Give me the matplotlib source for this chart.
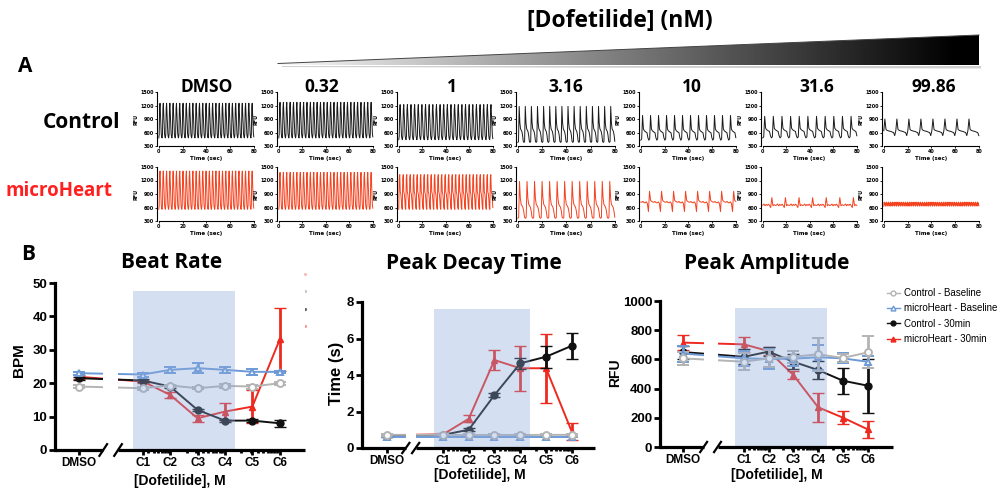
import numpy as np
import matplotlib
matplotlib.use('Agg')
import matplotlib.pyplot as plt
from matplotlib.patches import Polygon
from matplotlib.lines import Line2D

# ---------------- data ----------------
trace_cols = ['DMSO', '0.32', '1', '3.16', '10', '31.6', '99.86']
ctrl_beats = [29, 28, 26, 16, 12, 11, 8]
ctrl_peak = [1250, 1270, 1220, 1180, 980, 960, 900]
ctrl_trough = [480, 480, 440, 380, 430, 480, 480]
ctrl_shape = ['fast', 'fast', 'fast', 'shoulder', 'plateau', 'plateau', 'late']
mh_beats = [29, 28, 27, 13, 8, 7, 45]
mh_peak = [1410, 1380, 1330, 1180, 960, 820, 720]
mh_trough = [560, 560, 560, 360, 510, 560, 630]
mh_shape = ['fast', 'fast', 'notch', 'shoulder', 'irregular', 'noisy', 'flutter']

beat_templates = {
    'fast': [0.0, 0.1, 0.85, 1.0, 0.7, 0.35, 0.12, 0.03],
    'notch': [0.0, 0.9, 1.0, 0.5, 0.45, 0.3, 0.05],
    'shoulder': [0.0, 0.02, 1.0, 0.55, 0.38, 0.34, 0.3, 0.2, 0.03],
    'plateau': [0.0, 0.05, 1.0, 0.45, 0.38, 0.35, 0.32, 0.3, 0.1],
    'late': [0.38, 1.0, 0.45, 0.4, 0.38, 0.36, 0.35, 0.33, 0.3, 0.28, 0.12],
    'irregular': [0.47, 0.46, 0.5, 0.44, 0.43, 0.48, 0.4, 0.0, 1.0, 0.55, 0.5],
    'noisy': [0.35, 0.45, 0.3, 0.42, 0.33, 0.44, 0.32, 0.15, 1.0, 0.3, 0.4, 0.33],
    'flutter': [0.0, 1.0, 0.3, 0.8, 0.1],
}

conc_labels = ['DMSO', 'C1', 'C2', 'C3', 'C4', 'C5', 'C6']
conc_M = [3.2e-10, 1e-9, 3.16e-9, 1e-8, 3.16e-8, 9.986e-8]

series_names = ['Control - Baseline', 'microHeart - Baseline', 'Control - 30min', 'microHeart - 30min']

br_ctrl_base = [19.0, 18.5, 19.3, 18.5, 19.2, 19.0, 20.0]
br_ctrl_base_err = [0.4, 0.4, 0.3, 0.3, 0.7, 0.6, 0.5]
br_mh_base = [23.0, 22.6, 24.0, 24.5, 24.0, 23.4, 23.4]
br_mh_base_err = [0.4, 0.6, 1.0, 1.5, 1.0, 0.8, 0.4]
br_ctrl_30 = [21.5, 20.8, 19.0, 12.0, 8.8, 8.8, 8.0]
br_ctrl_30_err = [0.5, 0.5, 0.4, 0.4, 0.3, 0.4, 1.0]
br_mh_30 = [21.9, 20.5, 16.5, 9.5, 11.5, 13.0, 33.1]
br_mh_30_err = [0.5, 0.5, 1.0, 1.0, 2.5, 5.0, 9.3]

pd_ctrl_base = [0.72, 0.72, 0.71, 0.72, 0.71, 0.72, 0.72]
pd_ctrl_base_err = [0.05, 0.05, 0.05, 0.05, 0.05, 0.05, 0.05]
pd_mh_base = [0.62, 0.62, 0.62, 0.62, 0.62, 0.62, 0.62]
pd_mh_base_err = [0.04, 0.04, 0.04, 0.04, 0.04, 0.04, 0.04]
pd_ctrl_30 = [0.68, 0.72, 1.0, 2.9, 4.64, 5.0, 5.6]
pd_ctrl_30_err = [0.05, 0.05, 0.08, 0.12, 0.3, 0.6, 0.72]
pd_mh_30 = [0.7, 0.75, 1.6, 4.82, 4.37, 4.37, 0.9]
pd_mh_30_err = [0.05, 0.05, 0.2, 0.55, 1.23, 1.9, 0.48]

pa_ctrl_base = [607, 584, 607, 618, 635, 610, 648]
pa_ctrl_base_err = [45, 60, 60, 40, 115, 30, 110]
pa_mh_base = [640, 607, 603, 605, 615, 607, 584]
pa_mh_base_err = [55, 50, 70, 50, 85, 35, 40]
pa_ctrl_30 = [650, 618, 653, 584, 527, 454, 420]
pa_ctrl_30_err = [45, 50, 30, 50, 60, 90, 185]
pa_mh_30 = [715, 703, 657, 493, 272, 201, 121]
pa_mh_30_err = [50, 50, 30, 30, 100, 45, 60]

# ---------------- styling ----------------
W, H = 1000, 504
fig = plt.figure(figsize=(W / 100, H / 100), dpi=100)
TITLE_FONT = ['Open Sans', 'DejaVu Sans']
GP_FONT = ['Liberation Sans', 'DejaVu Sans']
C_GRAY, C_BLUE, C_BLACK, C_RED = '#b4b4b4', '#6d9ad6', '#111111', '#ee2a20'
SHADE = '#8aa8dc'


def fr(x0, y0, x1, y1):
    return [x0 / W, 1 - y1 / H, (x1 - x0) / W, (y1 - y0) / H]


ov = fig.add_axes([0, 0, 1, 1], zorder=-1)
ov.axis('off')

# gradient wedge
grad = np.linspace(0, 1, 512)[None, :]
im = ov.imshow(grad, cmap='gray_r', extent=(278, 979, 65, 35), aspect='auto',
               vmin=-0.02, vmax=0.97, interpolation='bilinear')
ov.add_patch(Polygon([(282, 66), (981, 66), (981, 68.5), (282, 67)], closed=True,
                     facecolor='#cfcfcf', edgecolor='none'))
wedge = Polygon([(278, 63.5), (979, 35), (979, 65), (278, 65)], closed=True,
                facecolor='none', edgecolor='none')
ov.add_patch(wedge)
im.set_clip_path(wedge)
ov.plot([278, 979], [63.5, 35], color='#444444', lw=0.7)
ov.set_xlim(0, W)
ov.set_ylim(H, 0)

ov.text(620, 21, '[Dofetilide] (nM)', ha='center', va='center', fontsize=16.5,
        fontweight='bold', family=TITLE_FONT)
ov.text(25, 66, 'A', ha='center', va='center', fontsize=15, fontweight='bold', family=TITLE_FONT)
ov.text(28, 255, 'B', ha='center', va='center', fontsize=15, fontweight='bold', family=TITLE_FONT)
ov.text(81, 122, 'Control', ha='center', va='center', fontsize=15, fontweight='bold', family=TITLE_FONT)
ov.text(59, 191, 'microHeart', ha='center', va='center', fontsize=13.5, fontweight='bold',
        family=TITLE_FONT, color='#ff1f1f')

col_left = [157, 277, 397, 516, 639, 761, 882]
col_right = [255, 374, 494, 616, 737, 858, 980]
col_label_x = [207, 322, 452, 566, 692, 817, 934]
for lab, cx in zip(trace_cols, col_label_x):
    ov.text(cx, 87, lab, ha='center', va='center', fontsize=12.5, fontweight='bold', family=TITLE_FONT)


def trace_panel(rect, n, peak, trough, shape, color):
    ax = fig.add_axes(rect)
    tpl = beat_templates[shape]
    y = trough + (peak - trough) * np.tile(tpl, n)
    x = np.linspace(0, 80, len(y))
    ax.plot(x, y, color=color, lw=0.7)
    ax.set_xlim(-1.5, 81)
    ax.set_ylim(300, 1500)
    ax.set_xticks([0, 20, 40, 60, 80])
    ax.set_yticks([300, 600, 900, 1200, 1500])
    for s in ['top', 'right']:
        ax.spines[s].set_visible(False)
    for s in ['left', 'bottom']:
        ax.spines[s].set_linewidth(0.8)
    ax.tick_params(labelsize=3.5, length=1.5, width=0.6, pad=1)
    for t in ax.get_xticklabels() + ax.get_yticklabels():
        t.set_fontweight('bold')
    ax.set_ylabel('RFU', fontsize=3.5, fontweight='bold', labelpad=1)
    ax.set_xlabel('Time (sec)', fontsize=4, fontweight='bold', labelpad=1)
    ax.spines['left'].set_bounds(300, 1500)
    ax.spines['bottom'].set_bounds(0, 80)
    return ax


for i in range(7):
    trace_panel(fr(col_left[i], 92, col_right[i], 146), ctrl_beats[i], ctrl_peak[i],
                ctrl_trough[i], ctrl_shape[i], '#1a1a1a')
    trace_panel(fr(col_left[i], 167, col_right[i], 221), mh_beats[i], mh_peak[i],
                mh_trough[i], mh_shape[i], '#f4411e')

# ---------------- B panels ----------------
logc = np.log10(conc_M)
minor_vals = [k * 10.0 ** e for e in (-10, -9, -8) for k in range(2, 10)]
minor_log = [np.log10(v) for v in minor_vals if logc[0] + 0.02 < np.log10(v) < logc[-1] - 0.02
             and all(abs(np.log10(v) - c) > 0.02 for c in logc)]


def main_panel(rect, xlim, dmso_x, brk, ylim, yticks, data, shade=(-9.68, -7.82), shade_top=0.955):
    ax = fig.add_axes(rect)
    xs = np.concatenate([[dmso_x], logc])
    styles = [
        dict(color=C_GRAY, marker='o', mfc='white', ms=5, mew=1.4),
        dict(color=C_BLUE, marker='^', mfc='white', ms=5, mew=1.4),
        dict(color=C_BLACK, marker='o', mfc=C_BLACK, ms=5, mew=1.0),
        dict(color=C_RED, marker='^', mfc=C_RED, ms=5, mew=1.0),
    ]
    order = [3, 2, 1, 0]
    for k in order:
        vals, errs = data[k]
        st = styles[k]
        ax.errorbar(xs, vals, yerr=errs, color=st['color'], marker=st['marker'], mfc=st['mfc'],
                    mec=st['color'], ms=st['ms'], mew=st['mew'], lw=1.4, elinewidth=2.0,
                    capsize=4, capthick=2.0, zorder=2 + 0.1 * (3 - k))
    ax.set_xlim(*xlim)
    ax.set_ylim(*ylim)
    ax.axvspan(shade[0], shade[1], ymin=0, ymax=shade_top, color=SHADE, alpha=0.36, lw=0, zorder=4)
    ax.axvspan(brk[0], brk[1], ymin=0, ymax=1, color='white', lw=0, zorder=5)
    for s in ['top', 'right', 'bottom']:
        ax.spines[s].set_visible(False)
    ax.spines['left'].set_linewidth(2.3)
    tr = ax.get_xaxis_transform()
    kw = dict(transform=tr, color='black', lw=2.3, clip_on=False, zorder=6, solid_capstyle='butt')
    ax.plot([xlim[0], brk[0]], [0, 0], **kw)
    ax.plot([brk[1], xlim[1]], [0, 0], **kw)
    d = 0.07
    for b in brk:
        ax.plot([b - d, b + d], [-0.035, 0.035], transform=tr, color='black', lw=1.6,
                clip_on=False, zorder=6)
    ax.set_xticks(xs)
    ax.set_xticklabels(conc_labels)
    ax.set_xticks(minor_log, minor=True)
    ax.tick_params(axis='x', which='major', length=3.5, width=2, direction='out', pad=1.5,
                   labelsize=8.5)
    ax.tick_params(axis='x', which='minor', length=2.5, width=2, direction='out')
    ax.tick_params(axis='y', length=4, width=2, direction='out', labelsize=9.5, pad=1.5)
    ax.set_yticks(yticks)
    for t in ax.get_xticklabels() + ax.get_yticklabels():
        t.set_fontweight('bold')
        t.set_family(GP_FONT)
    return ax


main_panel(fr(55, 283, 305, 450), (-11.10, -6.54), -10.66, (-10.22, -9.95), (0, 50),
           [0, 10, 20, 30, 40, 50],
           [(br_ctrl_base, br_ctrl_base_err), (br_mh_base, br_mh_base_err),
            (br_ctrl_30, br_ctrl_30_err), (br_mh_30, br_mh_30_err)])
main_panel(fr(362, 302, 595, 448), (-11.07, -6.55), -10.58, (-10.22, -10.03), (0, 8),
           [0, 2, 4, 6, 8],
           [(pd_ctrl_base, pd_ctrl_base_err), (pd_mh_base, pd_mh_base_err),
            (pd_ctrl_30, pd_ctrl_30_err), (pd_mh_30, pd_mh_30_err)])
main_panel(fr(660, 301, 893, 447), (-11.19, -6.49), -10.72, (-10.31, -10.03), (0, 1000),
           [0, 200, 400, 600, 800, 1000],
           [(pa_ctrl_base, pa_ctrl_base_err), (pa_mh_base, pa_mh_base_err),
            (pa_ctrl_30, pa_ctrl_30_err), (pa_mh_30, pa_mh_30_err)])

# titles & labels
ov.text(172, 263, 'Beat Rate', ha='center', va='center', fontsize=15, fontweight='bold', family=TITLE_FONT)
ov.text(474, 263, 'Peak Decay Time', ha='center', va='center', fontsize=15, fontweight='bold', family=TITLE_FONT)
ov.text(767, 263, 'Peak Amplitude', ha='center', va='center', fontsize=15, fontweight='bold', family=TITLE_FONT)
ov.text(19, 360, 'BPM', ha='center', va='center', rotation=90, fontsize=11, fontweight='bold', family=GP_FONT)
ov.text(337, 373, 'Time (s)', ha='center', va='center', rotation=90, fontsize=12, fontweight='bold', family=GP_FONT)
ov.text(615, 373, 'RFU', ha='center', va='center', rotation=90, fontsize=10, fontweight='bold', family=GP_FONT)
for cx, cy in [(180, 481), (480, 475), (777, 475)]:
    ov.text(cx, cy, '[Dofetilide], M', ha='center', va='center', fontsize=10, fontweight='bold', family=GP_FONT)

# legend
handles = [
    Line2D([], [], color=C_GRAY, marker='o', mfc='white', ms=3.5, lw=1),
    Line2D([], [], color=C_BLUE, marker='^', mfc='white', ms=3.5, lw=1),
    Line2D([], [], color=C_BLACK, marker='o', mfc=C_BLACK, ms=3.5, lw=1),
    Line2D([], [], color=C_RED, marker='^', mfc=C_RED, ms=3.5, lw=1),
]
fig.legend(handles, series_names, loc='upper left', bbox_to_anchor=(884 / W, 1 - 285 / H),
           frameon=False, handlelength=1.3, handletextpad=0.5, labelspacing=0.55,
           borderaxespad=0, borderpad=0.3, prop={'family': GP_FONT, 'size': 7})

# faint hidden-legend dots near Beat Rate panel
for yy, cc in zip([274, 291, 309, 326], ['#f2c0c0', '#c8c8c8', '#666666', '#f29a9a']):
    ov.plot([305], [yy], marker='o', ms=1.3, color=cc, lw=0)

fig.savefig('out.png', dpi=100)
